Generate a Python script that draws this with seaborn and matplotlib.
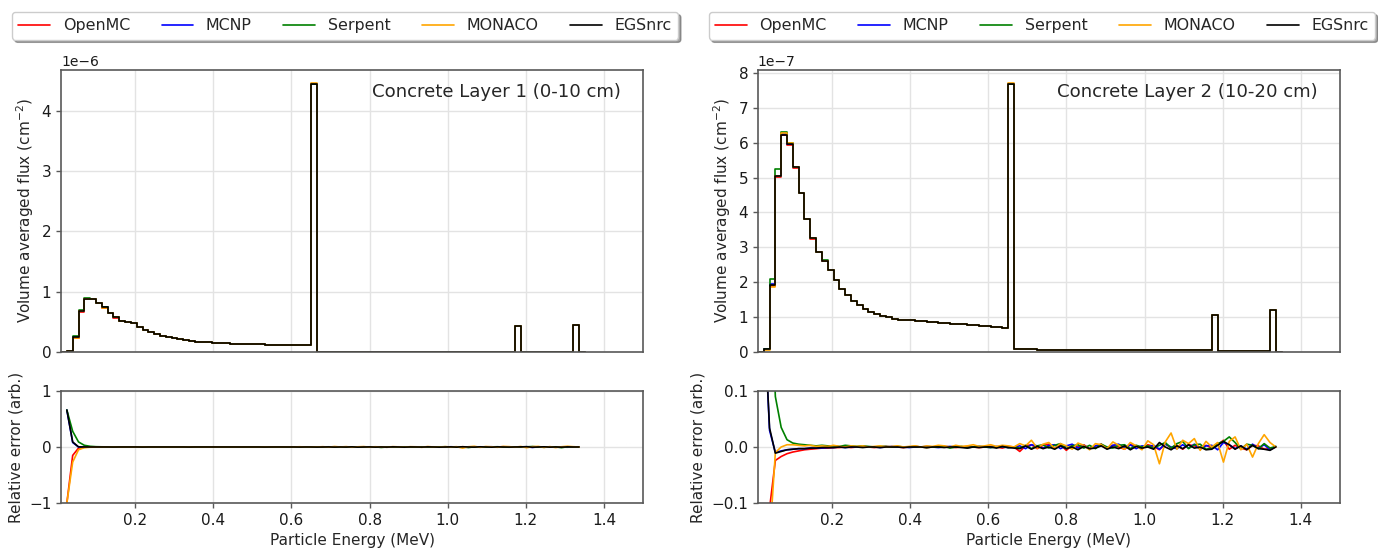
import numpy as np
import pandas as pd
import matplotlib
matplotlib.use("Agg")
import matplotlib.pyplot as plt
from matplotlib.lines import Line2D
from matplotlib.ticker import MultipleLocator
import seaborn as sns

# ---------------- data ----------------
CODES = ["OpenMC", "MCNP", "Serpent", "MONACO", "EGSnrc"]
COLORS = ["red", "blue", "green", "orange", "black"]

# energy bin edges (MeV): 90 bins of 0.0149 MeV starting at 0.01
E_EDGES = np.linspace(0.01, 1.351, 91)

# ---- Layer 1 flux (units of 1e-6 cm^-2), 90 bins ----
L1_EGSNRC = [0.0, 0.011, 0.25, 0.685, 0.88, 0.88, 0.81, 0.74, 0.65, 0.575,
             0.51, 0.495, 0.485, 0.42, 0.365, 0.326, 0.30, 0.27, 0.25, 0.227,
             0.21, 0.194, 0.18, 0.17, 0.165, 0.158, 0.153, 0.148, 0.144, 0.140,
             0.137, 0.134, 0.131, 0.128, 0.126, 0.124, 0.122, 0.120, 0.118, 0.116,
             0.114, 0.112, 0.110, 4.45, 0.004, 0.004, 0.004, 0.004, 0.004, 0.004,
             0.004, 0.004, 0.004, 0.004, 0.003, 0.004, 0.003, 0.004, 0.003, 0.003,
             0.003, 0.003, 0.003, 0.003, 0.003, 0.003, 0.003, 0.003, 0.003, 0.003,
             0.003, 0.003, 0.003, 0.003, 0.003, 0.003, 0.003, 0.003, 0.43, 0.002,
             0.002, 0.002, 0.002, 0.002, 0.002, 0.002, 0.002, 0.002, 0.44, 0.0]
L1_OPENMC = [0.0, 0.010, 0.235, 0.67, 0.875, 0.875, 0.805, 0.735, 0.645, 0.572,
             0.508, 0.494, 0.484, 0.419, 0.364, 0.325, 0.30, 0.27, 0.25, 0.227,
             0.21, 0.194, 0.18, 0.17, 0.165, 0.158, 0.153, 0.148, 0.144, 0.140,
             0.137, 0.134, 0.131, 0.128, 0.126, 0.124, 0.122, 0.120, 0.118, 0.116,
             0.114, 0.112, 0.110, 4.45, 0.004, 0.004, 0.004, 0.004, 0.004, 0.004,
             0.004, 0.004, 0.004, 0.004, 0.003, 0.004, 0.003, 0.004, 0.003, 0.003,
             0.003, 0.003, 0.003, 0.003, 0.003, 0.003, 0.003, 0.003, 0.003, 0.003,
             0.003, 0.003, 0.003, 0.003, 0.003, 0.003, 0.003, 0.003, 0.43, 0.002,
             0.002, 0.002, 0.002, 0.002, 0.002, 0.002, 0.002, 0.002, 0.44, 0.0]
L1_MCNP = [0.0, 0.011, 0.25, 0.684, 0.88, 0.88, 0.81, 0.74, 0.65, 0.575,
           0.51, 0.495, 0.485, 0.42, 0.365, 0.326, 0.30, 0.27, 0.25, 0.227,
           0.21, 0.194, 0.18, 0.17, 0.165, 0.158, 0.153, 0.148, 0.144, 0.140,
           0.137, 0.134, 0.131, 0.128, 0.126, 0.124, 0.122, 0.120, 0.118, 0.116,
           0.114, 0.112, 0.110, 4.45, 0.004, 0.004, 0.004, 0.004, 0.004, 0.004,
           0.004, 0.004, 0.004, 0.004, 0.003, 0.004, 0.003, 0.004, 0.003, 0.003,
           0.003, 0.003, 0.003, 0.003, 0.003, 0.003, 0.003, 0.003, 0.003, 0.003,
           0.003, 0.003, 0.003, 0.003, 0.003, 0.003, 0.003, 0.003, 0.43, 0.002,
           0.002, 0.002, 0.002, 0.002, 0.002, 0.002, 0.002, 0.002, 0.44, 0.0]
L1_SERPENT = [0.0, 0.012, 0.27, 0.70, 0.89, 0.885, 0.812, 0.742, 0.652, 0.577,
              0.512, 0.497, 0.486, 0.421, 0.366, 0.327, 0.30, 0.27, 0.25, 0.227,
              0.21, 0.194, 0.18, 0.17, 0.165, 0.158, 0.153, 0.148, 0.144, 0.140,
              0.137, 0.134, 0.131, 0.128, 0.126, 0.124, 0.122, 0.120, 0.118, 0.116,
              0.114, 0.112, 0.110, 4.45, 0.004, 0.004, 0.004, 0.004, 0.004, 0.004,
              0.004, 0.004, 0.004, 0.004, 0.003, 0.004, 0.003, 0.004, 0.003, 0.003,
              0.003, 0.003, 0.003, 0.003, 0.003, 0.003, 0.003, 0.003, 0.003, 0.003,
              0.003, 0.003, 0.003, 0.003, 0.003, 0.003, 0.003, 0.003, 0.43, 0.002,
              0.002, 0.002, 0.002, 0.002, 0.002, 0.002, 0.002, 0.002, 0.442, 0.0]
L1_MONACO = [0.0, 0.009, 0.23, 0.675, 0.878, 0.878, 0.808, 0.738, 0.648, 0.574,
             0.51, 0.495, 0.484, 0.42, 0.365, 0.326, 0.30, 0.27, 0.25, 0.227,
             0.21, 0.194, 0.18, 0.17, 0.165, 0.158, 0.153, 0.148, 0.144, 0.140,
             0.137, 0.134, 0.131, 0.128, 0.126, 0.124, 0.122, 0.120, 0.118, 0.116,
             0.114, 0.112, 0.110, 4.455, 0.004, 0.004, 0.004, 0.004, 0.004, 0.004,
             0.004, 0.004, 0.004, 0.004, 0.003, 0.004, 0.003, 0.004, 0.003, 0.003,
             0.003, 0.003, 0.003, 0.003, 0.003, 0.003, 0.003, 0.003, 0.003, 0.003,
             0.003, 0.003, 0.003, 0.003, 0.003, 0.003, 0.003, 0.003, 0.43, 0.002,
             0.002, 0.002, 0.002, 0.002, 0.002, 0.002, 0.002, 0.002, 0.44, 0.0]

# ---- Layer 2 flux (units of 1e-7 cm^-2), 90 bins ----
L2_EGSNRC = [0.0, 0.095, 1.93, 5.05, 6.23, 5.96, 5.29, 4.56, 3.81, 3.26,
             2.86, 2.62, 2.36, 2.06, 1.81, 1.63, 1.47, 1.35, 1.24, 1.16,
             1.09, 1.04, 1.00, 0.96, 0.93, 0.92, 0.905, 0.89, 0.875, 0.86,
             0.85, 0.84, 0.83, 0.815, 0.80, 0.79, 0.78, 0.765, 0.75, 0.735,
             0.72, 0.705, 0.69, 7.68, 0.075, 0.074, 0.073, 0.072, 0.071, 0.070,
             0.069, 0.068, 0.067, 0.066, 0.065, 0.064, 0.063, 0.062, 0.062, 0.061,
             0.060, 0.059, 0.058, 0.058, 0.057, 0.056, 0.056, 0.055, 0.055, 0.054,
             0.054, 0.053, 0.053, 0.052, 0.052, 0.051, 0.051, 0.050, 1.07, 0.020,
             0.020, 0.020, 0.019, 0.019, 0.019, 0.019, 0.019, 0.019, 1.20, 0.0]
L2_OPENMC = [0.0, 0.09, 1.90, 5.02, 6.21, 5.93, 5.27, 4.55, 3.80, 3.25,
             2.855, 2.615, 2.355, 2.06, 1.81, 1.63, 1.47, 1.35, 1.24, 1.16,
             1.09, 1.04, 1.00, 0.96, 0.93, 0.92, 0.905, 0.89, 0.875, 0.86,
             0.85, 0.84, 0.83, 0.815, 0.80, 0.79, 0.78, 0.765, 0.75, 0.735,
             0.72, 0.705, 0.69, 7.68, 0.075, 0.074, 0.073, 0.072, 0.071, 0.070,
             0.069, 0.068, 0.067, 0.066, 0.065, 0.064, 0.063, 0.062, 0.062, 0.061,
             0.060, 0.059, 0.058, 0.058, 0.057, 0.056, 0.056, 0.055, 0.055, 0.054,
             0.054, 0.053, 0.053, 0.052, 0.052, 0.051, 0.051, 0.050, 1.07, 0.020,
             0.020, 0.020, 0.019, 0.019, 0.019, 0.019, 0.019, 0.019, 1.20, 0.0]
L2_MCNP = [0.0, 0.095, 1.94, 5.06, 6.24, 5.96, 5.29, 4.56, 3.81, 3.26,
           2.86, 2.62, 2.36, 2.06, 1.81, 1.63, 1.47, 1.35, 1.24, 1.16,
           1.09, 1.04, 1.00, 0.96, 0.93, 0.92, 0.905, 0.89, 0.875, 0.86,
           0.85, 0.84, 0.83, 0.815, 0.80, 0.79, 0.78, 0.765, 0.75, 0.735,
           0.72, 0.705, 0.69, 7.68, 0.075, 0.074, 0.073, 0.072, 0.071, 0.070,
           0.069, 0.068, 0.067, 0.066, 0.065, 0.064, 0.063, 0.062, 0.062, 0.061,
           0.060, 0.059, 0.058, 0.058, 0.057, 0.056, 0.056, 0.055, 0.055, 0.054,
           0.054, 0.053, 0.053, 0.052, 0.052, 0.051, 0.051, 0.050, 1.07, 0.020,
           0.020, 0.020, 0.019, 0.019, 0.019, 0.019, 0.019, 0.019, 1.20, 0.0]
L2_SERPENT = [0.0, 0.10, 2.09, 5.26, 6.32, 5.98, 5.31, 4.57, 3.82, 3.27,
              2.865, 2.625, 2.365, 2.065, 1.812, 1.632, 1.47, 1.35, 1.24, 1.16,
              1.09, 1.04, 1.00, 0.96, 0.93, 0.92, 0.905, 0.89, 0.875, 0.86,
              0.85, 0.84, 0.83, 0.815, 0.80, 0.79, 0.78, 0.765, 0.75, 0.735,
              0.72, 0.705, 0.69, 7.68, 0.075, 0.074, 0.073, 0.072, 0.071, 0.070,
              0.069, 0.068, 0.067, 0.066, 0.065, 0.064, 0.063, 0.062, 0.062, 0.061,
              0.060, 0.059, 0.058, 0.058, 0.057, 0.056, 0.056, 0.055, 0.055, 0.054,
              0.054, 0.053, 0.053, 0.052, 0.052, 0.051, 0.051, 0.050, 1.07, 0.020,
              0.020, 0.020, 0.019, 0.019, 0.019, 0.019, 0.019, 0.019, 1.20, 0.0]
L2_MONACO = [0.0, 0.07, 1.87, 5.06, 6.27, 6.00, 5.31, 4.57, 3.81, 3.26,
             2.86, 2.62, 2.36, 2.06, 1.81, 1.63, 1.47, 1.35, 1.24, 1.16,
             1.09, 1.04, 1.00, 0.96, 0.93, 0.92, 0.905, 0.89, 0.875, 0.86,
             0.85, 0.84, 0.83, 0.815, 0.80, 0.79, 0.78, 0.765, 0.75, 0.735,
             0.72, 0.705, 0.69, 7.70, 0.075, 0.074, 0.073, 0.072, 0.071, 0.070,
             0.069, 0.068, 0.067, 0.066, 0.065, 0.064, 0.063, 0.062, 0.062, 0.061,
             0.060, 0.059, 0.058, 0.058, 0.057, 0.056, 0.056, 0.055, 0.055, 0.054,
             0.054, 0.053, 0.053, 0.052, 0.052, 0.051, 0.051, 0.050, 1.07, 0.020,
             0.020, 0.020, 0.019, 0.019, 0.019, 0.019, 0.019, 0.019, 1.21, 0.0]

# ---- Relative errors, Layer 1 (89 points at upper bin edges) ----
E1_OPENMC = [-1.0, -0.15, -0.02, -0.005, -0.002, -0.001, 0.000, -0.001, 0.000, 0.000,
             0.000, -0.001, 0.000, 0.000, 0.001, 0.000, 0.000, -0.001, 0.000, 0.000,
             0.000, 0.000, 0.001, 0.000, 0.000, 0.000, -0.001, 0.000, 0.000, 0.000,
             0.001, 0.000, 0.000, -0.001, 0.000, 0.000, 0.000, 0.001, 0.000, -0.001,
             0.000, 0.001, 0.000, 0.000, -0.003, 0.002, 0.000, -0.002, 0.003, 0.000,
             -0.002, 0.003, 0.000, -0.003, 0.002, 0.000, 0.003, -0.002, 0.001, 0.000,
             0.002, -0.003, 0.000, 0.003, -0.002, 0.001, 0.000, -0.003, 0.004, 0.000,
             -0.002, 0.003, 0.000, -0.003, 0.002, 0.004, -0.002, 0.000, 0.003, -0.004,
             0.002, 0.000, -0.003, 0.003, 0.000, -0.002, 0.002, 0.001, 0.000]
E1_MCNP = [0.66, 0.08, 0.000, -0.001, 0.000, 0.000, -0.001, 0.000, 0.000, 0.000,
           0.000, 0.000, -0.001, 0.000, 0.000, 0.000, 0.001, 0.000, 0.000, 0.000,
           -0.001, 0.000, 0.000, 0.000, 0.000, 0.001, 0.000, 0.000, 0.000, -0.001,
           0.000, 0.000, 0.001, 0.000, 0.000, 0.000, -0.001, 0.000, 0.000, 0.001,
           0.000, 0.000, -0.001, 0.000, 0.002, -0.002, 0.003, 0.000, -0.003, 0.002,
           0.000, 0.003, -0.002, 0.000, 0.002, -0.004, 0.000, 0.003, -0.002, 0.000,
           0.003, 0.000, -0.002, 0.002, 0.000, -0.003, 0.004, 0.000, -0.002, 0.003,
           0.000, -0.003, 0.002, 0.004, -0.002, 0.000, 0.003, -0.003, 0.000, 0.004,
           -0.008, 0.002, 0.000, -0.003, 0.003, 0.000, -0.004, 0.002, 0.000]
E1_SERPENT = [0.66, 0.28, 0.09, 0.03, 0.012, 0.005, 0.003, 0.002, 0.001, 0.001,
              0.001, 0.000, 0.001, 0.000, 0.000, 0.001, 0.000, 0.000, 0.000, 0.001,
              0.000, 0.000, 0.000, 0.001, 0.000, 0.000, 0.000, 0.000, 0.001, 0.000,
              0.000, 0.000, 0.000, 0.001, 0.000, 0.000, -0.001, 0.000, 0.000, 0.000,
              0.001, 0.000, 0.000, -0.002, 0.000, 0.003, 0.000, -0.002, 0.002, 0.000,
              -0.003, 0.002, 0.000, 0.003, -0.008, 0.000, 0.002, -0.003, 0.003, 0.000,
              -0.002, 0.003, 0.000, -0.003, 0.002, 0.004, 0.000, -0.002, 0.003, -0.010,
              0.003, 0.000, -0.003, 0.002, 0.004, 0.000, -0.004, 0.002, 0.000, 0.003,
              0.008, 0.000, -0.005, 0.003, 0.002, -0.012, 0.004, 0.002, 0.000]
E1_MONACO = [-1.0, -0.27, -0.05, -0.012, -0.004, -0.002, -0.001, 0.000, -0.001, 0.000,
             0.000, 0.000, -0.001, 0.000, 0.000, 0.000, 0.000, -0.001, 0.000, 0.000,
             0.000, 0.000, 0.000, 0.000, -0.001, 0.000, 0.000, 0.000, 0.000, 0.000,
             0.001, 0.000, 0.000, 0.000, 0.000, 0.002, 0.000, 0.000, 0.003, 0.000,
             0.004, 0.000, 0.002, 0.000, 0.005, -0.003, 0.008, 0.000, 0.006, -0.004,
             0.003, 0.007, -0.003, 0.004, 0.000, -0.005, 0.006, 0.002, -0.004, 0.005,
             0.003, -0.006, 0.008, 0.000, -0.004, 0.006, 0.000, 0.005, -0.020, 0.004,
             0.012, -0.006, 0.008, 0.003, -0.005, 0.010, 0.006, -0.004, 0.009, -0.012,
             0.005, 0.010, -0.008, 0.006, -0.010, 0.004, 0.012, 0.005, 0.000]
E1_EGSNRC = [0.66, 0.09, 0.002, 0.000, 0.000, 0.000, 0.000, 0.000, -0.001, 0.000,
             0.000, 0.000, 0.000, -0.001, 0.000, 0.000, 0.000, 0.000, 0.000, 0.000,
             0.000, -0.001, 0.000, 0.000, 0.000, 0.000, 0.000, 0.000, 0.000, 0.000,
             0.000, 0.000, 0.000, 0.000, -0.001, 0.000, 0.000, 0.000, 0.000, 0.000,
             -0.001, 0.000, 0.000, -0.002, 0.000, 0.001, -0.002, 0.000, -0.001, 0.002,
             -0.003, 0.000, 0.001, -0.002, 0.000, -0.002, 0.002, 0.000, -0.003, 0.001,
             0.000, -0.002, 0.002, 0.000, -0.003, 0.000, 0.002, -0.002, 0.004, 0.000,
             -0.002, 0.003, 0.000, -0.003, 0.002, 0.000, -0.002, 0.000, 0.002, 0.005,
             -0.004, 0.000, 0.003, -0.002, 0.000, -0.003, 0.002, 0.000, 0.000]

# ---- Relative errors, Layer 2 ----
E2_OPENMC = [-1.0, -0.11, -0.024, -0.017, -0.012, -0.009, -0.007, -0.005, -0.004, -0.003,
             -0.002, -0.002, -0.001, -0.001, 0.000, -0.001, 0.000, 0.001, 0.000, -0.001,
             0.000, 0.001, 0.000, 0.000, -0.001, 0.000, 0.001, 0.000, -0.001, 0.000,
             0.000, 0.001, 0.000, -0.001, 0.000, 0.001, 0.000, -0.001, 0.000, 0.001,
             0.000, -0.002, 0.001, 0.000, -0.008, 0.002, 0.004, -0.003, 0.003, 0.005,
             -0.002, 0.004, -0.006, 0.003, 0.000, 0.004, -0.003, 0.002, 0.005, -0.002,
             0.003, 0.000, -0.004, 0.004, 0.002, -0.003, 0.004, 0.001, -0.005, 0.006,
             -0.002, 0.003, -0.004, 0.004, 0.002, -0.003, 0.003, -0.002, 0.004, 0.012,
             -0.004, 0.003, -0.002, -0.005, 0.003, 0.002, -0.004, -0.003, 0.000]
E2_MCNP = [0.25, 0.03, -0.010, -0.007, -0.005, -0.004, -0.003, -0.003, -0.002, -0.002,
           -0.002, -0.001, -0.001, 0.000, -0.001, 0.000, 0.000, 0.001, 0.000, 0.000,
           -0.001, 0.000, 0.001, 0.000, 0.000, -0.001, 0.000, 0.000, 0.001, 0.000,
           -0.001, 0.000, 0.001, 0.000, 0.000, -0.001, 0.000, 0.001, 0.000, -0.001,
           0.001, 0.000, -0.001, 0.000, 0.002, -0.003, 0.004, 0.002, -0.002, 0.003,
           0.004, -0.003, 0.002, 0.005, -0.002, 0.003, -0.004, 0.002, 0.004, -0.003,
           0.003, 0.005, -0.002, 0.004, -0.003, 0.002, 0.000, 0.003, -0.004, 0.005,
           0.000, -0.003, 0.004, -0.002, 0.005, -0.004, 0.002, 0.003, -0.005, 0.008,
           0.004, -0.003, 0.002, -0.004, 0.005, -0.002, 0.004, -0.005, 0.001]
E2_SERPENT = [0.9, 0.35, 0.09, 0.035, 0.013, 0.007, 0.005, 0.004, 0.003, 0.002,
              0.003, 0.002, 0.002, 0.001, 0.003, 0.002, 0.001, 0.002, 0.001, 0.000,
              0.001, 0.001, 0.000, 0.001, 0.000, 0.000, 0.001, 0.000, -0.001, 0.000,
              0.000, 0.001, -0.002, 0.000, 0.001, -0.001, 0.000, 0.001, 0.000, -0.001,
              0.000, 0.001, -0.001, 0.000, -0.002, 0.003, -0.003, 0.002, 0.004, -0.002,
              0.003, 0.006, -0.003, 0.002, 0.004, -0.002, 0.003, -0.003, 0.005, 0.000,
              -0.002, 0.003, 0.004, -0.003, 0.003, 0.000, 0.002, -0.002, 0.003, 0.008,
              -0.002, 0.006, 0.010, -0.003, 0.004, 0.005, -0.004, -0.002, 0.006, 0.010,
              0.018, 0.008, -0.004, 0.005, 0.003, -0.003, 0.006, -0.002, 0.001]
E2_MONACO = [-1.0, -0.17, -0.010, 0.000, 0.004, 0.004, 0.003, 0.002, 0.003, 0.001,
             0.002, 0.001, 0.003, 0.001, 0.000, 0.002, 0.001, 0.002, 0.000, 0.001,
             0.002, 0.000, 0.001, 0.002, 0.000, 0.001, 0.002, 0.000, 0.002, 0.001,
             0.003, 0.002, 0.000, 0.003, 0.001, 0.002, 0.004, 0.001, 0.002, 0.004,
             0.001, 0.003, 0.002, 0.000, 0.006, 0.002, 0.012, -0.002, 0.005, 0.008,
             -0.003, 0.006, 0.002, -0.004, 0.007, 0.003, -0.005, 0.006, 0.004, -0.003,
             0.009, 0.003, -0.004, 0.008, 0.002, -0.005, 0.011, 0.004, -0.030, 0.009,
             0.025, -0.004, 0.012, 0.006, 0.015, -0.006, 0.010, 0.000, 0.008, -0.027,
             0.010, 0.018, -0.005, 0.005, -0.018, 0.006, 0.022, 0.008, 0.000]
E2_EGSNRC = [0.25, 0.034, -0.011, -0.008, -0.005, -0.004, -0.003, -0.003, -0.002, -0.002,
             -0.001, -0.001, -0.001, 0.000, -0.001, 0.000, 0.000, -0.001, 0.000, 0.000,
             -0.001, 0.000, 0.000, 0.000, -0.001, 0.000, 0.000, 0.000, -0.001, 0.000,
             0.000, -0.001, 0.000, 0.000, -0.001, -0.002, 0.000, -0.001, 0.000, 0.000,
             -0.002, 0.001, -0.001, -0.002, -0.003, 0.002, -0.004, 0.001, -0.003, 0.000,
             -0.004, 0.002, -0.003, 0.000, -0.005, 0.001, -0.003, -0.002, 0.002, -0.004,
             0.000, -0.003, 0.002, -0.005, 0.001, -0.002, 0.000, -0.004, 0.008, 0.000,
             -0.005, 0.002, -0.003, 0.004, -0.002, 0.000, -0.005, -0.004, 0.003, 0.010,
             0.004, -0.004, 0.002, -0.005, 0.003, -0.003, -0.004, -0.006, 0.000]

PANELS = [
    dict(title="Concrete Layer 1 (0-10 cm)", scale=1e-6,
         flux=[L1_OPENMC, L1_MCNP, L1_SERPENT, L1_MONACO, L1_EGSNRC],
         err=[E1_OPENMC, E1_MCNP, E1_SERPENT, E1_MONACO, E1_EGSNRC],
         err_lim=(-1, 1), err_ticks=[-1, 0, 1]),
    dict(title="Concrete Layer 2 (10-20 cm)", scale=1e-7,
         flux=[L2_OPENMC, L2_MCNP, L2_SERPENT, L2_MONACO, L2_EGSNRC],
         err=[E2_OPENMC, E2_MCNP, E2_SERPENT, E2_MONACO, E2_EGSNRC],
         err_lim=(-0.1, 0.1), err_ticks=[-0.1, 0.0, 0.1]),
]

# ---------------- plot ----------------
sns.set_style("ticks")
plt.rcParams["font.family"] = ["DejaVu Sans"]
FS = 11
SPINE = "0.35"
GRID = "#e3e3e3"
LW = 1.2

fig = plt.figure(figsize=(13.78, 5.5), dpi=100)
lefts = [0.0443, 0.5500]
W = 0.4223

bin_list = [float(b) for b in E_EDGES]
centers = 0.5 * (E_EDGES[:-1] + E_EDGES[1:])
err_x = E_EDGES[1:90]

for p, left in zip(PANELS, lefts):
    ax = fig.add_axes([left, 0.360, W, 0.5127])
    axb = fig.add_axes([left, 0.0855, W, 0.2036])

    for name, col, vals in zip(CODES, COLORS, p["flux"]):
        df = pd.DataFrame({"E": centers, "w": np.array(vals) * p["scale"]})
        sns.histplot(data=df, x="E", weights="w", bins=bin_list, element="step",
                     fill=False, color=col, linewidth=LW, ax=ax)
    for name, col, vals in zip(CODES, COLORS, p["err"]):
        df = pd.DataFrame({"E": err_x, "r": vals})
        sns.lineplot(data=df, x="E", y="r", color=col, linewidth=LW, ax=axb)

    for a in (ax, axb):
        a.set_xlim(0.01, 1.5)
        a.set_xticks([0.2, 0.4, 0.6, 0.8, 1.0, 1.2, 1.4])
        a.grid(True, color=GRID, linewidth=1.0)
        a.set_axisbelow(True)
        for s in a.spines.values():
            s.set_color(SPINE)
            s.set_linewidth(1.2)
        a.tick_params(colors="0.1", labelsize=FS, width=1.0, length=3.5)
        a.tick_params(axis="both", color=SPINE)

    top = max(max(v) for v in p["flux"]) * p["scale"] * 1.05
    ax.set_ylim(0, top)
    ax.yaxis.set_major_locator(MultipleLocator(p["scale"]))
    ax.tick_params(axis="x", labelbottom=False, length=0)
    ax.set_xlabel("")
    ax.set_ylabel("Volume averaged flux (cm$^{-2}$)", fontsize=FS)
    ax.yaxis.get_offset_text().set_fontsize(FS - 1)
    ax.text(0.962, 0.955, p["title"], transform=ax.transAxes, ha="right",
            va="top", fontsize=13.1)

    axb.set_ylim(*p["err_lim"])
    axb.set_yticks(p["err_ticks"])
    axb.set_ylabel("Relative error (arb.)", fontsize=FS)
    axb.set_xlabel("Particle Energy (MeV)", fontsize=FS)

    handles = [Line2D([0], [0], color=c, linewidth=LW) for c in COLORS]
    ax.legend(handles, CODES, loc="lower center", bbox_to_anchor=(0.488, 1.108),
              ncol=5, fontsize=11.4, frameon=True, fancybox=True, shadow=True,
              borderaxespad=0.0)

fig.savefig("out.png", dpi=100)
